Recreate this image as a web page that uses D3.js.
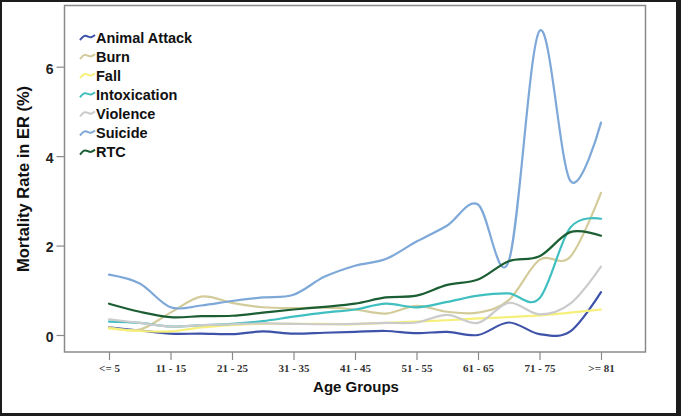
<!DOCTYPE html>
<html>
<head>
<meta charset="utf-8">
<script src="https://cdn.jsdelivr.net/npm/d3@7"></script>
<style>
  html, body { margin: 0; padding: 0; background: #fff; }
  svg { display: block; }
</style>
</head>
<body>
<svg id="chart" width="681" height="416"></svg>
<script>
// ---- data ----
const categories = ["<= 5","6 - 10","11 - 15","16 - 20","21 - 25","26 - 30","31 - 35","36 - 40",
  "41 - 45","46 - 50","51 - 55","56 - 60","61 - 65","66 - 70","71 - 75","76 - 80",">= 81"];
const tickLabels = ["<= 5","11 - 15","21 - 25","31 - 35","41 - 45","51 - 55","61 - 65","71 - 75",">= 81"];
const yTicks = [0, 2, 4, 6];

const animalAttack = [0.17, 0.10, 0.03, 0.03, 0.02, 0.08, 0.03, 0.05, 0.07, 0.09, 0.04, 0.07, 0.00, 0.28, 0.02, 0.08, 0.96];
const burn         = [0.17, 0.12, 0.50, 0.86, 0.72, 0.62, 0.60, 0.61, 0.57, 0.48, 0.65, 0.52, 0.50, 0.78, 1.68, 1.75, 3.18];
const fall         = [0.15, 0.09, 0.08, 0.17, 0.22, 0.25, 0.25, 0.25, 0.24, 0.27, 0.30, 0.33, 0.37, 0.40, 0.44, 0.50, 0.57];
const intoxication = [0.30, 0.27, 0.19, 0.22, 0.25, 0.31, 0.41, 0.50, 0.57, 0.70, 0.62, 0.74, 0.88, 0.93, 0.82, 2.40, 2.60];
const violence     = [0.35, 0.27, 0.19, 0.22, 0.24, 0.26, 0.25, 0.24, 0.25, 0.27, 0.28, 0.45, 0.27, 0.72, 0.46, 0.70, 1.53];
const suicide      = [1.35, 1.15, 0.62, 0.66, 0.76, 0.84, 0.90, 1.30, 1.55, 1.70, 2.09, 2.45, 2.92, 1.65, 6.80, 3.45, 4.75];
const rtc          = [0.70, 0.52, 0.40, 0.42, 0.43, 0.50, 0.57, 0.63, 0.70, 0.84, 0.88, 1.12, 1.24, 1.65, 1.76, 2.30, 2.22];

const seriesNames  = ["Animal Attack","Burn","Fall","Intoxication","Violence","Suicide","RTC"];
const seriesValues = [animalAttack, burn, fall, intoxication, violence, suicide, rtc];
const seriesColors = ["#3d52a8","#d3cc9a","#f6f07a","#40bfc0","#cbcbcb","#7da8d8","#1b5e33"];

// ---- layout ----
const svg = d3.select("#chart");
const W = 681, H = 416;
const frame = {left: 64.5, top: 5.5, right: 645.5, bottom: 352};

svg.append("rect").attr("width", W).attr("height", H).attr("fill", "#fff");

const x = d3.scalePoint().domain(categories).range([109, 601]);
const y = d3.scaleLinear().domain([0, 6]).range([335, 66.7]);

// plot frame
svg.append("rect")
  .attr("x", frame.left).attr("y", frame.top)
  .attr("width", frame.right - frame.left).attr("height", frame.bottom - frame.top)
  .attr("fill", "none").attr("stroke", "#8a8a8a").attr("stroke-width", 1.5);

// y axis
const yAxis = svg.append("g").attr("transform", `translate(${frame.left},0)`)
  .call(d3.axisLeft(y).tickValues(yTicks).tickSize(8).tickPadding(3).tickFormat(d3.format("d")));
yAxis.select(".domain").remove();
yAxis.selectAll(".tick line").attr("stroke", "#8a8a8a").attr("stroke-width", 1.2);
yAxis.selectAll(".tick text")
  .attr("font-family", "Liberation Sans, Arial, sans-serif")
  .attr("font-size", 14).attr("font-weight", "bold").attr("fill", "#222")
  .attr("dy", "0.45em");

// x axis
const xAxis = svg.append("g").attr("transform", `translate(0,${frame.bottom})`)
  .call(d3.axisBottom(x).tickValues(tickLabels).tickSize(8).tickPadding(3));
xAxis.select(".domain").remove();
xAxis.selectAll(".tick line").attr("stroke", "#8a8a8a").attr("stroke-width", 1.2);
xAxis.selectAll(".tick text")
  .attr("font-family", "Liberation Serif, Times New Roman, serif")
  .attr("font-size", 11).attr("font-weight", "bold").attr("fill", "#333")
  .attr("dy", "0.85em");

// axis titles
svg.append("text")
  .attr("transform", "translate(29,179) rotate(-90)")
  .attr("text-anchor", "middle")
  .attr("font-family", "Liberation Sans, Arial, sans-serif")
  .attr("font-size", 16.5).attr("font-weight", "bold").attr("fill", "#111")
  .text("Mortality Rate in ER (%)");

svg.append("text")
  .attr("x", 356).attr("y", 391.5)
  .attr("text-anchor", "middle")
  .attr("font-family", "Liberation Sans, Arial, sans-serif")
  .attr("font-size", 15).attr("font-weight", "bold").attr("fill", "#111")
  .text("Age Groups");

// lines
const line = d3.line()
  .x((d, i) => x(categories[i]))
  .y(d => y(d))
  .curve(d3.curveCatmullRom.alpha(0));

const lineGroup = svg.append("g");
seriesValues.forEach((vals, k) => {
  lineGroup.append("path")
    .datum(vals)
    .attr("d", line)
    .attr("fill", "none")
    .attr("stroke", seriesColors[k])
    .attr("stroke-width", 2.2)
    .attr("stroke-linejoin", "round")
    .attr("stroke-linecap", "round");
});

// legend
const legend = svg.append("g");
const swatch = d3.line().curve(d3.curveBasis);
seriesNames.forEach((name, k) => {
  const cy = 37.5 + k * 19.1;
  legend.append("path")
    .attr("d", swatch([[80, cy + 2.5], [84, cy - 2.5], [88, cy - 1], [91, cy + 0.5], [95, cy - 2.5]]))
    .attr("fill", "none").attr("stroke", seriesColors[k]).attr("stroke-width", 2);
  legend.append("text")
    .attr("x", 96).attr("y", cy + 5)
    .attr("font-family", "Liberation Sans, Arial, sans-serif")
    .attr("font-size", 14.5).attr("font-weight", "bold").attr("fill", "#111")
    .text(name);
});

// outer border
const bc = "#1c1c1c";
svg.append("rect").attr("x", 0).attr("y", 0).attr("width", 2).attr("height", H).attr("fill", bc);
svg.append("rect").attr("x", 0).attr("y", 0).attr("width", W).attr("height", 2).attr("fill", bc);
svg.append("rect").attr("x", 0).attr("y", H - 3).attr("width", W).attr("height", 3).attr("fill", bc);
svg.append("rect").attr("x", W - 5).attr("y", 0).attr("width", 5).attr("height", H).attr("fill", bc);
</script>
</body>
</html>
